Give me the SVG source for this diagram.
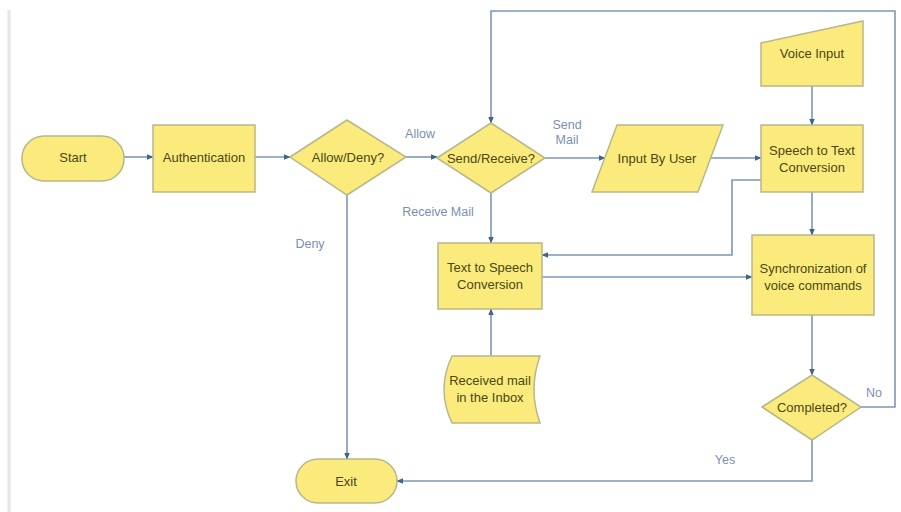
<svg xmlns="http://www.w3.org/2000/svg" width="901" height="512" viewBox="0 0 901 512">
<defs>
<style>
.n{fill:#faeb7c;stroke:#b9b78a;stroke-width:1.5}
.t{font-family:"Liberation Sans",Arial,sans-serif;font-size:13px;fill:#4a4715;text-anchor:middle}
.l{font-family:"Liberation Sans",Arial,sans-serif;font-size:12.5px;fill:#7b8fae;text-anchor:middle}
.c{fill:none;stroke:#7d97b3;stroke-width:1.6}
</style>
<marker id="a" viewBox="0 0 10 10" refX="9" refY="5" markerWidth="7" markerHeight="7" orient="auto" markerUnits="userSpaceOnUse">
<path d="M0,1 L10,5 L0,9 z" fill="#3d6489"/>
</marker>
</defs>
<rect width="901" height="512" fill="#ffffff"/>
<line x1="9" y1="10" x2="9" y2="512" stroke="#e6e6e6" stroke-width="3"/>
<g id="connectors">
<path class="c" d="M124,157 H153" marker-end="url(#a)"/>
<path class="c" d="M255,157 H290" marker-end="url(#a)"/>
<path class="c" d="M406,157 H437" marker-end="url(#a)"/>
<path class="c" d="M347,195 V459" marker-end="url(#a)"/>
<path class="c" d="M545,158 H605" marker-end="url(#a)"/>
<path class="c" d="M710,158 H761" marker-end="url(#a)"/>
<path class="c" d="M812,86 V125" marker-end="url(#a)"/>
<path class="c" d="M491,193 V243" marker-end="url(#a)"/>
<path class="c" d="M761,180 H732 V255 H542" marker-end="url(#a)"/>
<path class="c" d="M812,192 V235" marker-end="url(#a)"/>
<path class="c" d="M542,277 H752" marker-end="url(#a)"/>
<path class="c" d="M491,356 V309" marker-end="url(#a)"/>
<path class="c" d="M812,315 V375" marker-end="url(#a)"/>
<path class="c" d="M861,407 H895 V11 H491 V123" marker-end="url(#a)"/>
<path class="c" d="M812,440 V481 H397" marker-end="url(#a)"/>
<text class="l" x="420" y="138">Allow</text>
<text class="l" x="310" y="248">Deny</text>
<text class="l" x="438" y="216">Receive Mail</text>
<text class="l" x="567" y="129">Send</text>
<text class="l" x="567" y="144">Mail</text>
<text class="l" x="874" y="397">No</text>
<text class="l" x="725" y="464">Yes</text>
</g>
<g id="start">
<rect class="n" x="22" y="136" width="102" height="45" rx="22"/>
<text class="t" x="73" y="162">Start</text>
</g>
<g id="authentication">
<rect class="n" x="153" y="125" width="102" height="67"/>
<text class="t" x="204" y="162">Authentication</text>
</g>
<g id="allow-deny">
<polygon class="n" points="290,157 347,120 406,157 347,195"/>
<text class="t" x="348" y="162">Allow/Deny?</text>
</g>
<g id="send-receive">
<polygon class="n" points="437,158 491,123 545,158 491,193"/>
<text class="t" x="491" y="163">Send/Receive?</text>
</g>
<g id="input-by-user">
<polygon class="n" points="617,125 723,125 698,192 592,192"/>
<text class="t" x="657" y="163">Input By User</text>
</g>
<g id="voice-input">
<polygon class="n" points="761,43 863,21 863,86 761,86"/>
<text class="t" x="812" y="58">Voice Input</text>
</g>
<g id="speech-to-text">
<rect class="n" x="761" y="125" width="102" height="67"/>
<text class="t" x="812" y="155">Speech to Text</text>
<text class="t" x="812" y="172">Conversion</text>
</g>
<g id="text-to-speech">
<rect class="n" x="438" y="243" width="104" height="66"/>
<text class="t" x="490" y="272">Text to Speech</text>
<text class="t" x="490" y="289">Conversion</text>
</g>
<g id="synchronization">
<rect class="n" x="752" y="235" width="122" height="80"/>
<text class="t" x="813" y="273">Synchronization of</text>
<text class="t" x="813" y="290">voice commands</text>
</g>
<g id="received-mail">
<path class="n" d="M452,356 H540 Q528,389.5 540,423 H452 Q436,389.5 452,356 Z"/>
<text class="t" x="490" y="385">Received mail</text>
<text class="t" x="490" y="402">in the Inbox</text>
</g>
<g id="completed">
<polygon class="n" points="762,407 812,375 861,407 812,440"/>
<text class="t" x="812" y="412">Completed?</text>
</g>
<g id="exit">
<rect class="n" x="296" y="459" width="101" height="44" rx="22"/>
<text class="t" x="346" y="486">Exit</text>
</g>
</svg>
